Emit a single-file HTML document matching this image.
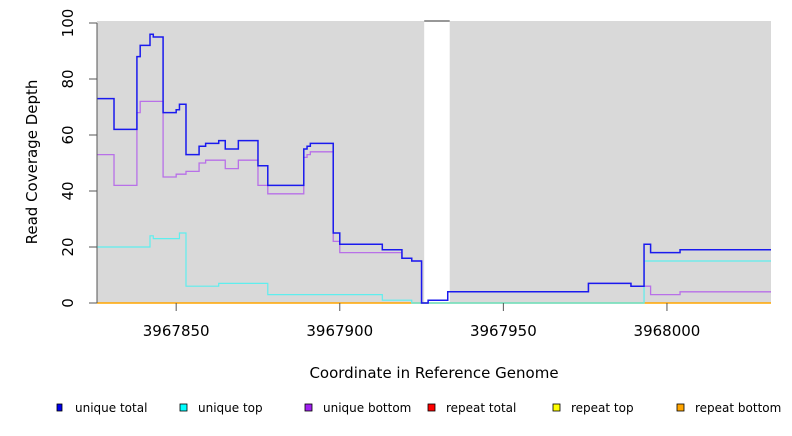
<!DOCTYPE html>
<html><head><meta charset="utf-8"><style>
body{margin:0;background:#fff;width:792px;height:432px;overflow:hidden;font-family:"DejaVu Sans","Liberation Sans",sans-serif}
</style></head><body>
<svg id="chart" width="792" height="432" xmlns="http://www.w3.org/2000/svg"></svg>
<script>
const xStarts=[3967825,3967831,3967838,3967839,3967842,3967843,3967846,3967850,3967851,3967853,3967857,3967859,3967863,3967865,3967869,3967875,3967878,3967889,3967890,3967891,3967898,3967900,3967913,3967919,3967922,3967925,3967927,3967933,3967976,3967989,3967993,3967995,3968004];
const totalVals=[73,62,88,92,96,95,68,69,71,53,56,57,58,55,58,49,42,55,56,57,25,21,19,16,15,0,1,4,7,6,21,18,19];
const bottomVals=[53,42,68,72,72,72,45,46,46,47,50,51,51,48,51,42,39,52,53,54,22,18,18,16,15,0,1,4,7,6,6,3,4];
const topStarts=[3967825,3967842,3967843,3967851,3967853,3967863,3967878,3967913,3967922,3967993];
const topVals=[20,24,23,25,6,7,3,1,0,15];
const yTicks=[0,20,40,60,80,100];
const xTicks=[3967850,3967900,3967950,3968000];
const gap=[3967925.8,3967933.6];
const xMin=3967825.8,xMax=3968031.8;
const L=97,R=771,T=21,B=303;
const sx=v=>L+(v-xMin)/(xMax-xMin)*(R-L);
const sy=v=>B-v*2.8;
const svg=document.getElementById('chart');
const NS='http://www.w3.org/2000/svg';
function mk(t,a,p){const e=document.createElementNS(NS,t);for(const k in a)e.setAttribute(k,a[k]);(p||svg).appendChild(e);return e;}
let bg1=mk('rect',{x:L,y:T,width:sx(gap[0])-L,height:B-T,fill:'#d9d9d9'});


let bg2=mk('rect',{x:sx(gap[1]),y:T,width:R-sx(gap[1]),height:B-T,fill:'#d9d9d9'});


mk('line',{x1:sx(gap[0]),x2:sx(gap[1]),y1:T,y2:T,stroke:'#777','stroke-width':1.5});
function stepPath(starts,vals){let d='';for(let i=0;i<starts.length;i++){const x0=sx(Math.max(starts[i],xMin));const x1=i+1<starts.length?sx(starts[i+1]):R;const y=sy(vals[i]);d+=(i?'L':'M')+x0+','+y+'L'+x1+','+y;}return d;}
let ro=mk('line',{x1:L,x2:R,y1:B,y2:B,stroke:'#ffa500','stroke-width':1.5});


let rg=mk('line',{x1:sx(3967922),x2:sx(3967993),y1:B,y2:B,stroke:'#66cc88','stroke-width':1.2});


let ct=mk('path',{d:stepPath(topStarts,topVals),fill:'none',stroke:'#5eeeee','stroke-width':1.2});


let pb=mk('path',{d:stepPath(xStarts,bottomVals),fill:'none',stroke:'#b870e8','stroke-width':1.3});


let bt=mk('path',{d:stepPath(xStarts,totalVals),fill:'none',stroke:'#1a1aee','stroke-width':1.5});


mk('line',{x1:L,x2:L,y1:sy(0),y2:sy(100),stroke:'#555','stroke-width':1});
yTicks.forEach(v=>{mk('line',{x1:L-8,x2:L,y1:sy(v),y2:sy(v),stroke:'#555'});
 const t=mk('text',{x:0,y:0,transform:`translate(${L-24},${sy(v)}) rotate(-90)`,'text-anchor':'middle','font-size':15,fill:'#000'});t.textContent=v;
 
 });
xTicks.forEach(v=>{mk('line',{x1:sx(v),x2:sx(v),y1:B,y2:B+8,stroke:'#555'});
 const t=mk('text',{x:sx(v),y:B+33,'text-anchor':'middle','font-size':15,fill:'#000'});t.textContent=v;
 
 });
let yt=mk('text',{transform:'translate(37,162) rotate(-90)','text-anchor':'middle','font-size':15});yt.textContent='Read Coverage Depth';


let xt=mk('text',{x:434,y:378,'text-anchor':'middle','font-size':15});xt.textContent='Coordinate in Reference Genome';


const legNames=['unique total','unique top','unique bottom','repeat total','repeat top','repeat bottom'];
const legColors=['#0000ee','#00ffff','#a020f0','#ff0000','#ffff00','#ffa500'];
const legX=[57,180,305,428,553,677];
legNames.forEach((n,i)=>{const g=mk('g',{});
 
 
 mk('rect',{x:legX[i],y:404,width:i==0?5:7,height:7,fill:legColors[i],stroke:'#000','stroke-width':0.8},g);
 const t=mk('text',{x:legX[i]+18,y:412,'font-size':12},g);t.textContent=n;});
</script>
</body></html>
